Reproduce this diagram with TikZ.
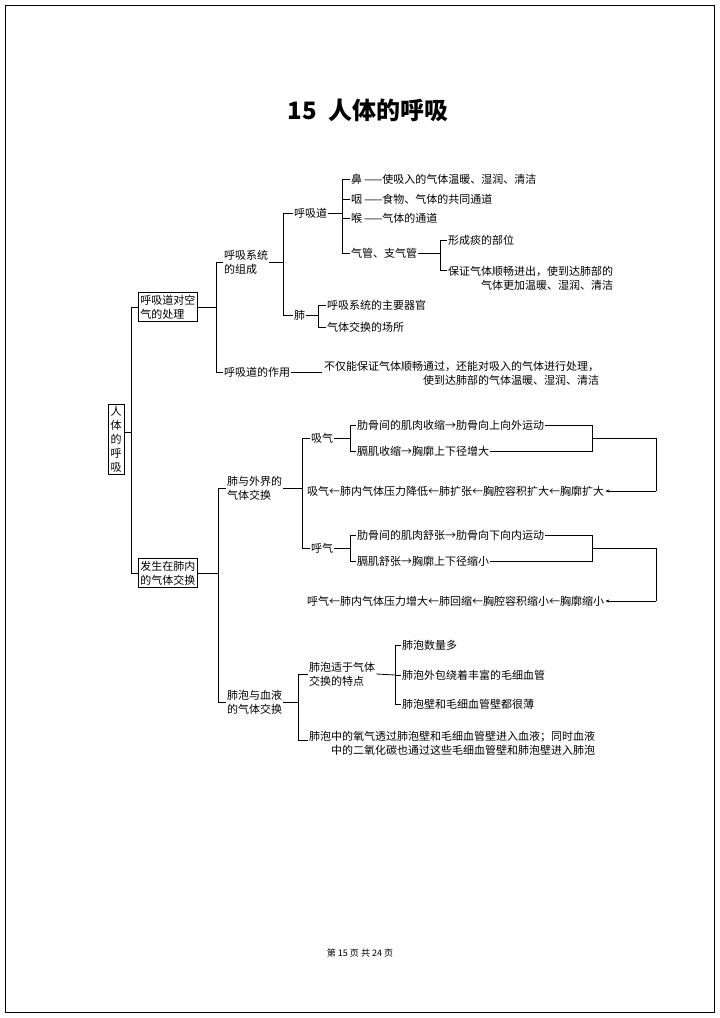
\documentclass[tikz,border=0pt]{standalone}
\usepackage{fontspec}
\setmainfont{Noto Sans CJK SC}
\usetikzlibrary{arrows.meta}
\begin{document}
\begin{tikzpicture}[x=1pt,y=-1pt,
  t/.style={anchor=west,inner sep=1pt,font=\fontsize{11}{14}\selectfont,align=left},
  bx/.style={draw,line width=0.9pt,inner sep=2pt,font=\fontsize{11}{14}\selectfont,align=left},
  ln/.style={line width=0.8pt}]
\useasboundingbox (0,0) rectangle (720,1018);
\draw[line width=0.6pt] (5,5) rectangle (714,1012);
\node[font=\fontsize{24}{28}\selectfont\bfseries] (title) at (368,110) {15\ \ 人体的呼吸};
\node[bx,align=center,text width=12pt,inner sep=2pt] (root) at (116,439) {人\\体\\的\\呼\\吸};
\node[bx,anchor=west] (b1) at (138,307) {呼吸道对空\\气的处理};
\node[bx,anchor=west] (b2) at (138,573) {发生在肺内\\的气体交换};
% spine
\coordinate (s1) at (131,307); \coordinate (s2) at (131,573);
\draw[ln] (root.east|-0,432) -- (131,432);
\draw[ln] (b1.west) -- (s1) -- (s2) -- (b2.west);
% part 1
\node[t] (zc) at (223,262) {呼吸系统\\的组成};
\node[t] (zy) at (223,372) {呼吸道的作用};
\draw[ln] (b1.east) -- (216,307);
\draw[ln] (zc.west) -| (216,372) -- (zy.west);
\draw[ln] (216,262) |- (zc.west);
\node[t] (hxd) at (293,213) {呼吸道};
\node[t] (fei) at (293,315) {肺};
\draw[ln] (zc.east) -- (283,262);
\draw[ln] (hxd.west) -| (283,315) -- (fei.west);
\node[t] (bi) at (350,179) {鼻\,——使吸入的气体温暖、湿润、清洁};
\node[t] (yan) at (350,199) {咽\,——食物、气体的共同通道};
\node[t] (hou) at (350,218) {喉\,——气体的通道};
\node[t] (qg) at (350,253) {气管、支气管};
\draw[ln] (hxd.east) -- (342,213);
\draw[ln] (bi.west) -| (342,253) -- (qg.west);
\draw[ln] (342,199) -- (yan.west); \draw[ln] (342,218) -- (hou.west);
\node[t] (tan) at (447,240) {形成痰的部位};
\node[t,align=right] (bz) at (447,278) {保证气体顺畅进出，使到达肺部的\\气体更加温暖、湿润、清洁};
\draw[ln] (qg.east) -- (440,253);
\draw[ln] (tan.west) -| (440,270) -- (447,270);
\node[t] (f1) at (326,305) {呼吸系统的主要器官};
\node[t] (f2) at (326,327) {气体交换的场所};
\draw[ln] (fei.east) -- (318,315);
\draw[ln] (f1.west) -| (318,327) -- (f2.west);
\node[t,align=right] (zyt) at (323,373) {不仅能保证气体顺畅通过，还能对吸入的气体进行处理，\\使到达肺部的气体温暖、湿润、清洁\hspace{3.2em}};
\draw[ln] (zy.east) -- (322,372);
% part 2
\node[t] (wj) at (226,488) {肺与外界的\\气体交换};
\node[t] (xy) at (226,702) {肺泡与血液\\的气体交换};
\draw[ln] (b2.east) -- (218,573);
\draw[ln] (wj.west) -| (218,702) -- (xy.west);
\node[t] (xq) at (310,438) {吸气};
\node[t] (hq) at (310,548) {呼气};
\draw[ln] (wj.east) -- (302,488);
\draw[ln] (xq.west) -| (302,548) -- (hq.west);
\node[t] (x1) at (356,425) {肋骨间的肌肉收缩→肋骨向上向外运动};
\node[t] (x2) at (356,451) {膈肌收缩→胸廓上下径增大};
\draw[ln] (xq.east) -- (350,438);
\draw[ln] (x1.west) -| (350,451) -- (x2.west);
\draw[ln] (x1.east) -| (592,451) -- (x2.east);
\node[t] (xr) at (306,491) {吸气←肺内气体压力降低←肺扩张←胸腔容积扩大←胸廓扩大};
\coordinate (xa) at (656,491);
\draw[ln] (592,438) -| (xa);
\draw[ln,-{Stealth[length=4pt,width=3pt]}] (xa) -- (xr.east);
\node[t] (h1) at (356,535) {肋骨间的肌肉舒张→肋骨向下向内运动};
\node[t] (h2) at (356,561) {膈肌舒张→胸廓上下径缩小};
\draw[ln] (hq.east) -- (350,548);
\draw[ln] (h1.west) -| (350,561) -- (h2.west);
\draw[ln] (h1.east) -| (592,561) -- (h2.east);
\node[t] (hr) at (306,601) {呼气←肺内气体压力增大←肺回缩←胸腔容积缩小←胸廓缩小};
\coordinate (ha) at (656,601);
\draw[ln] (592,548) -| (ha);
\draw[ln,-{Stealth[length=4pt,width=3pt]}] (ha) -- (hr.east);
\node[t] (td) at (308,674) {肺泡适于气体\\交换的特点};
\node[t,align=right] (jh) at (308,743) {肺泡中的氧气透过肺泡壁和毛细血管壁进入血液；同时血液\\中的二氧化碳也通过这些毛细血管壁和肺泡壁进入肺泡};
\draw[ln] (xy.east) -- (298,702);
\draw[ln] (308,674) -| (298,740) -- (308,740);
\node[t] (p1) at (401,645) {肺泡数量多};
\node[t] (p2) at (401,675) {肺泡外包绕着丰富的毛细血管};
\node[t] (p3) at (401,704) {肺泡壁和毛细血管壁都很薄};
\draw[ln] (td.east) -- (395,675);
\draw[ln] (p1.west) -| (395,704) -- (p3.west);
\draw[ln] (395,675) -- (p2.west);
\node[font=\fontsize{9}{11}\selectfont] (foot) at (360,953) {第 15 页 共 24 页};
\end{tikzpicture}
\end{document}
